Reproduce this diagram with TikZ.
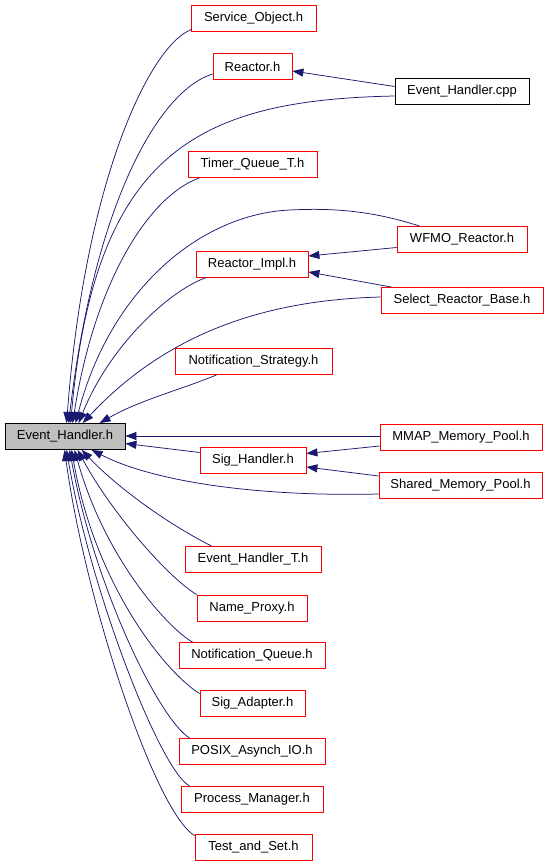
\documentclass[tikz,border=0pt]{standalone}
\usepackage{fontspec}
\setmainfont{Liberation Sans}
\usetikzlibrary{arrows.meta,calc}
\definecolor{edgeblue}{RGB}{25,25,112}
\definecolor{nodegray}{RGB}{191,191,191}
\begin{document}
\begin{tikzpicture}[x=1pt,y=-1pt,
  box/.style={draw=red, line width=0.8pt, minimum height=26pt, inner sep=0pt,
    font=\fontsize{13}{15}\selectfont, anchor=center},
  plainbox/.style={box, draw=black},
  mainbox/.style={box, draw=black, fill=nodegray},
  edge/.style={draw=edgeblue, line width=0.75pt, -{Triangle[length=11pt,width=8pt]}}]
\useasboundingbox[fill=white] (0,0) rectangle (549,864);
% nodes
\node[box, minimum width=125pt] (SO) at (253.5,18.5) {Service\_Object.h};
\node[box, minimum width=79pt] (R) at (252.5,66.5) {Reactor.h};
\node[plainbox, minimum width=134pt] (EHcpp) at (462,91.5) {Event\_Handler.cpp};
\node[box, minimum width=129pt] (TQ) at (252.5,164.5) {Timer\_Queue\_T.h};
\node[box, minimum width=130pt] (WFMO) at (462,239.5) {WFMO\_Reactor.h};
\node[box, minimum width=112pt] (RI) at (252,264) {Reactor\_Impl.h};
\node[box, minimum width=162pt] (SRB) at (462,300.5) {Select\_Reactor\_Base.h};
\node[box, minimum width=157pt] (NS) at (253.5,361.5) {Notification\_Strategy.h};
\node[mainbox, minimum width=120pt] (EH) at (65,436.5) {Event\_Handler.h};
\node[box, minimum width=162pt] (MMAP) at (461,437) {MMAP\_Memory\_Pool.h};
\node[box, minimum width=106pt] (SH) at (253,460.5) {Sig\_Handler.h};
\node[box, minimum width=163pt] (SMP) at (460.5,485) {Shared\_Memory\_Pool.h};
\node[box, minimum width=136pt] (EHT) at (253,559.5) {Event\_Handler\_T.h};
\node[box, minimum width=110pt] (NP) at (252,608) {Name\_Proxy.h};
\node[box, minimum width=146pt] (NQ) at (252,655.5) {Notification\_Queue.h};
\node[box, minimum width=105pt] (SA) at (252.5,703.5) {Sig\_Adapter.h};
\node[box, minimum width=146pt] (PAIO) at (252,751.5) {POSIX\_Asynch\_IO.h};
\node[box, minimum width=142pt] (PM) at (252,799.5) {Process\_Manager.h};
\node[box, minimum width=117pt] (TS) at (253.5,847.5) {Test\_and\_Set.h};
% upper edges into Event_Handler.h
\draw[edge] ($(SO.south west)+(1,-2.5)$) .. controls (150,45) and (85,180) .. ($(EH.north west)+(62,0)$);
\draw[edge] ($(R.west)+(0,7.5)$) .. controls (160,90) and (95,200) .. ($(EH.north west)+(64,0)$);
\draw[edge] ($(EHcpp.west)+(0,4.5)$) .. controls (200,100) and (95,150) .. ($(EH.north west)+(66,0)$);
\draw[edge] ($(TQ.south west)+(12,0)$) .. controls (150,195) and (95,280) .. ($(EH.north west)+(68,0)$);
\draw[edge] ($(WFMO.north west)+(23,0)$) .. controls (370,210) and (330,208) .. (290,210)
  .. controls (200,214) and (110,290) .. ($(EH.north west)+(71,0)$);
\draw[edge] ($(RI.south west)+(11,0)$) .. controls (170,290) and (110,345) .. ($(EH.north west)+(74,0)$);
\draw[edge] ($(SRB.west)+(0,-3.5)$) .. controls (270,300) and (170,330) .. ($(EH.north west)+(78,0)$);
\draw[edge] ($(NS.south west)+(42,0)$) .. controls (180,390) and (140,400) .. ($(EH.north west)+(95,0)$);
% side edges
\draw[edge] ($(MMAP.west)+(0,-1)$) -- ($(EH.east)+(0,-0.5)$);
\draw[edge] ($(SH.west)+(0,-8)$) -- ($(EH.east)+(0,7)$);
\draw[edge] ($(SMP.west)+(0,9)$) .. controls (250,497) and (150,480) .. ($(EH.south west)+(87,0)$);
% lower edges into Event_Handler.h
\draw[edge] ($(EHT.north west)+(27,0)$) .. controls (170,525) and (120,490) .. ($(EH.south west)+(77,0)$);
\draw[edge] (NP.north west) .. controls (165,575) and (110,510) .. ($(EH.south west)+(73,0)$);
\draw[edge] ($(NQ.north west)+(14,0)$) .. controls (170,630) and (105,560) .. ($(EH.south west)+(70,0)$);
\draw[edge] ($(SA.north west)+(0,3.5)$) .. controls (165,672) and (95,585) .. ($(EH.south west)+(67,0)$);
\draw[edge] ($(PAIO.north west)+(11,0)$) .. controls (160,720) and (95,590) .. ($(EH.south west)+(65,0)$);
\draw[edge] ($(PM.north west)+(9,0)$) .. controls (160,770) and (90,590) .. ($(EH.south west)+(62,0)$);
\draw[edge] ($(TS.north west)+(0,1.5)$) .. controls (155,812) and (85,600) .. ($(EH.south west)+(60,0)$);
% edges into other headers
\draw[edge] ($(EHcpp.west)+(0,-5)$) -- ($(R.east)+(0,4.5)$);
\draw[edge] ($(WFMO.west)+(0,8)$) -- ($(RI.east)+(0,-8)$);
\draw[edge] ($(SRB.north west)+(11,0)$) -- ($(RI.east)+(0,8)$);
\draw[edge] ($(MMAP.west)+(0,9)$) -- ($(SH.east)+(0,-7)$);
\draw[edge] ($(SMP.west)+(0,-9)$) -- ($(SH.east)+(0,6.5)$);
\end{tikzpicture}
\end{document}
